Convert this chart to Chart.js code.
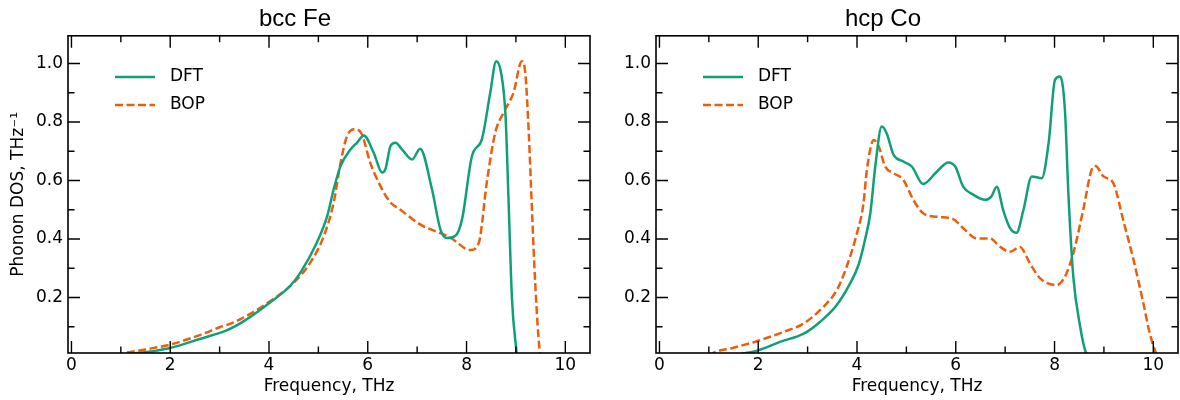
<!DOCTYPE html>
<html>
<head>
<meta charset="utf-8">
<script src="https://cdn.jsdelivr.net/npm/chart.js@4.4.0/dist/chart.umd.min.js"></script>
<style>
  body { margin: 0; background: #fff; }
  canvas { position: absolute; top: 0; }
  #feChart { left: 0; }
  #coChart { left: 588px; }
</style>
</head>
<body>
<canvas id="feChart" width="594" height="400"></canvas>
<canvas id="coChart" width="592" height="400"></canvas>
<script>
// bcc Fe (THz, states/THz)
const feFreqDft = [1.0, 1.25, 1.6, 2.0, 2.6, 3.15, 3.5, 3.96, 4.43, 4.64, 4.97, 5.18, 5.31, 5.45, 5.65, 5.78, 5.92, 6.12, 6.29, 6.36, 6.46, 6.56, 6.7, 6.9, 7.06, 7.3, 7.47, 7.6, 7.77, 7.91, 8.11, 8.31, 8.48, 8.6, 8.7, 8.79, 8.85, 8.92, 9.02];
const feDosDft  = [0.0, 0.008, 0.015, 0.027, 0.058, 0.088, 0.12, 0.175, 0.24, 0.286, 0.388, 0.479, 0.57, 0.65, 0.706, 0.729, 0.754, 0.695, 0.627, 0.64, 0.718, 0.729, 0.705, 0.672, 0.709, 0.57, 0.433, 0.403, 0.41, 0.468, 0.684, 0.741, 0.9, 1.008, 0.968, 0.82, 0.536, 0.195, 0.0];
const feFreqBop = [0.9, 1.03, 1.5, 2.0, 2.61, 3.0, 3.29, 3.96, 4.5, 4.84, 5.11, 5.31, 5.45, 5.58, 5.75, 5.88, 6.05, 6.26, 6.46, 6.66, 7.06, 7.67, 8.08, 8.25, 8.41, 8.58, 8.75, 8.95, 9.12, 9.19, 9.26, 9.33, 9.39, 9.49, 9.52];
const feDosBop  = [0.0, 0.008, 0.022, 0.039, 0.072, 0.098, 0.115, 0.18, 0.25, 0.32, 0.41, 0.525, 0.661, 0.752, 0.775, 0.758, 0.661, 0.58, 0.525, 0.5, 0.45, 0.405, 0.362, 0.388, 0.593, 0.763, 0.832, 0.9, 1.008, 0.968, 0.763, 0.479, 0.25, 0.01, 0.0];

// hcp Co
const coFreqDft = [1.5, 1.7, 2.0, 2.44, 2.92, 3.25, 3.59, 3.86, 4.03, 4.16, 4.27, 4.37, 4.5, 4.6, 4.74, 4.94, 5.11, 5.34, 5.62, 5.85, 5.99, 6.15, 6.36, 6.59, 6.72, 6.83, 6.96, 7.1, 7.23, 7.37, 7.54, 7.74, 7.88, 8.01, 8.11, 8.21, 8.28, 8.38, 8.52, 8.62, 8.68];
const coDosDft  = [0.0, 0.008, 0.019, 0.048, 0.076, 0.116, 0.174, 0.248, 0.311, 0.396, 0.488, 0.648, 0.785, 0.762, 0.688, 0.665, 0.648, 0.588, 0.631, 0.662, 0.648, 0.579, 0.551, 0.534, 0.545, 0.579, 0.499, 0.437, 0.421, 0.499, 0.614, 0.608, 0.728, 0.945, 0.956, 0.842, 0.557, 0.271, 0.099, 0.019, 0.0];
const coFreqBop = [1.0, 1.06, 1.5, 1.97, 2.51, 2.92, 3.32, 3.59, 3.79, 4.0, 4.13, 4.2, 4.34, 4.44, 4.57, 4.74, 4.94, 5.14, 5.34, 5.62, 5.95, 6.15, 6.43, 6.69, 6.9, 7.1, 7.3, 7.5, 7.71, 8.04, 8.21, 8.38, 8.58, 8.75, 8.83, 8.99, 9.19, 9.39, 9.6, 9.8, 9.93, 10.07];
const coDosBop  = [0.0, 0.008, 0.028, 0.05, 0.082, 0.111, 0.168, 0.225, 0.305, 0.42, 0.52, 0.636, 0.739, 0.716, 0.648, 0.625, 0.602, 0.534, 0.488, 0.476, 0.468, 0.437, 0.402, 0.402, 0.373, 0.356, 0.373, 0.317, 0.265, 0.242, 0.271, 0.351, 0.499, 0.636, 0.65, 0.614, 0.591, 0.465, 0.328, 0.179, 0.076, 0.0];

const xTicks = [0, 2, 4, 6, 8, 10];
const xMinorTicks = [1, 3, 5, 7, 9];
const yTicks = [0.2, 0.4, 0.6, 0.8, 1.0];
const yMinorTicks = [0.1, 0.3, 0.5, 0.7, 0.9];

const seriesNames = ["DFT", "BOP"];
const green = "#10a078";
const orange = "#ea5f0c";
const dash = [8, 3.5];

function toPoints(xs, ys) {
  return xs.map((x, i) => ({ x: x, y: ys[i] }));
}

// frame, inward ticks on all sides and the legend inside the axes
const framePlugin = {
  id: "frame",
  afterDraw(chart) {
    const ctx = chart.ctx;
    const a = chart.chartArea;
    const xs = chart.scales.x, ys = chart.scales.y;
    ctx.save();
    ctx.strokeStyle = "#000";
    ctx.lineWidth = 1.6;
    ctx.strokeRect(a.left, a.top, a.right - a.left, a.bottom - a.top);
    ctx.lineWidth = 1.4;
    ctx.beginPath();
    function xt(v, len) {
      const p = xs.getPixelForValue(v);
      ctx.moveTo(p, a.bottom); ctx.lineTo(p, a.bottom - len);
      ctx.moveTo(p, a.top); ctx.lineTo(p, a.top + len);
    }
    function yt(v, len) {
      const p = ys.getPixelForValue(v);
      ctx.moveTo(a.left, p); ctx.lineTo(a.left + len, p);
      ctx.moveTo(a.right, p); ctx.lineTo(a.right - len, p);
    }
    xTicks.forEach(v => xt(v, 12));
    xMinorTicks.forEach(v => xt(v, 6.5));
    yTicks.forEach(v => yt(v, 12));
    yMinorTicks.forEach(v => yt(v, 6.5));
    ctx.stroke();

    // legend
    ctx.font = "17px 'DejaVu Sans'";
    ctx.textBaseline = "middle";
    ctx.fillStyle = "#000";
    ctx.lineWidth = 2.5;
    chart.data.datasets.forEach((ds, i) => {
      const y = 77 + i * 28;
      ctx.strokeStyle = ds.borderColor;
      ctx.setLineDash(ds.borderDash || []);
      ctx.beginPath();
      ctx.moveTo(a.left + 47, y);
      ctx.lineTo(a.left + 87, y);
      ctx.stroke();
      ctx.setLineDash([]);
      ctx.fillText(ds.label, a.left + 102, y);
    });
    ctx.restore();
  }
};

function makePanel(id, title, dft, bop, showYTitle, padRight) {
  const tickFont = { family: "'DejaVu Sans'", size: 17 };
  return new Chart(document.getElementById(id), {
    type: "line",
    data: {
      datasets: [
        { label: seriesNames[0], data: dft, borderColor: green, borderWidth: 2.5 },
        { label: seriesNames[1], data: bop, borderColor: orange, borderWidth: 2.5, borderDash: dash }
      ]
    },
    options: {
      responsive: false,
      animation: false,
      layout: { padding: { left: 0, right: padRight, top: 0, bottom: 0 } },
      elements: {
        point: { radius: 0 },
        line: { cubicInterpolationMode: "monotone", fill: false }
      },
      datasets: { line: { clip: 0 } },
      plugins: {
        legend: { display: false },
        tooltip: { enabled: false },
        title: {
          display: true,
          text: title,
          color: "#000",
          font: { family: "'Liberation Sans'", size: 24, weight: "normal" },
          padding: { top: 5, bottom: 2 }
        }
      },
      scales: {
        x: {
          type: "linear",
          min: -0.07,
          max: 10.5,
          afterBuildTicks: s => { s.ticks = xTicks.map(v => ({ value: v })); },
          afterFit: s => { s.height = 47; },
          grid: { display: false, drawTicks: false },
          border: { display: false },
          ticks: { color: "#000", font: tickFont, padding: 2.5, maxRotation: 0 },
          title: {
            display: true,
            text: "Frequency, THz",
            color: "#000",
            font: { family: "'DejaVu Sans'", size: 17 },
            padding: { top: 0, bottom: 3.5 }
          }
        },
        y: {
          min: 0.01,
          max: 1.095,
          afterBuildTicks: s => { s.ticks = yTicks.map(v => ({ value: v })); },
          afterFit: s => { s.width = 68; },
          grid: { display: false, drawTicks: false },
          border: { display: false },
          ticks: { color: "#000", font: tickFont, padding: 5, callback: v => v.toFixed(1) },
          title: {
            display: showYTitle,
            text: "Phonon DOS, THz\u207B\u00B9",
            color: "#000",
            font: { family: "'DejaVu Sans'", size: 17 },
            padding: { top: 8.8, bottom: 0 }
          }
        }
      }
    },
    plugins: [framePlugin]
  });
}

makePanel("feChart", "bcc Fe", toPoints(feFreqDft, feDosDft), toPoints(feFreqBop, feDosBop), true, 4);
makePanel("coChart", "hcp Co", toPoints(coFreqDft, coDosDft), toPoints(coFreqBop, coDosBop), false, 2);
</script>
</body>
</html>
